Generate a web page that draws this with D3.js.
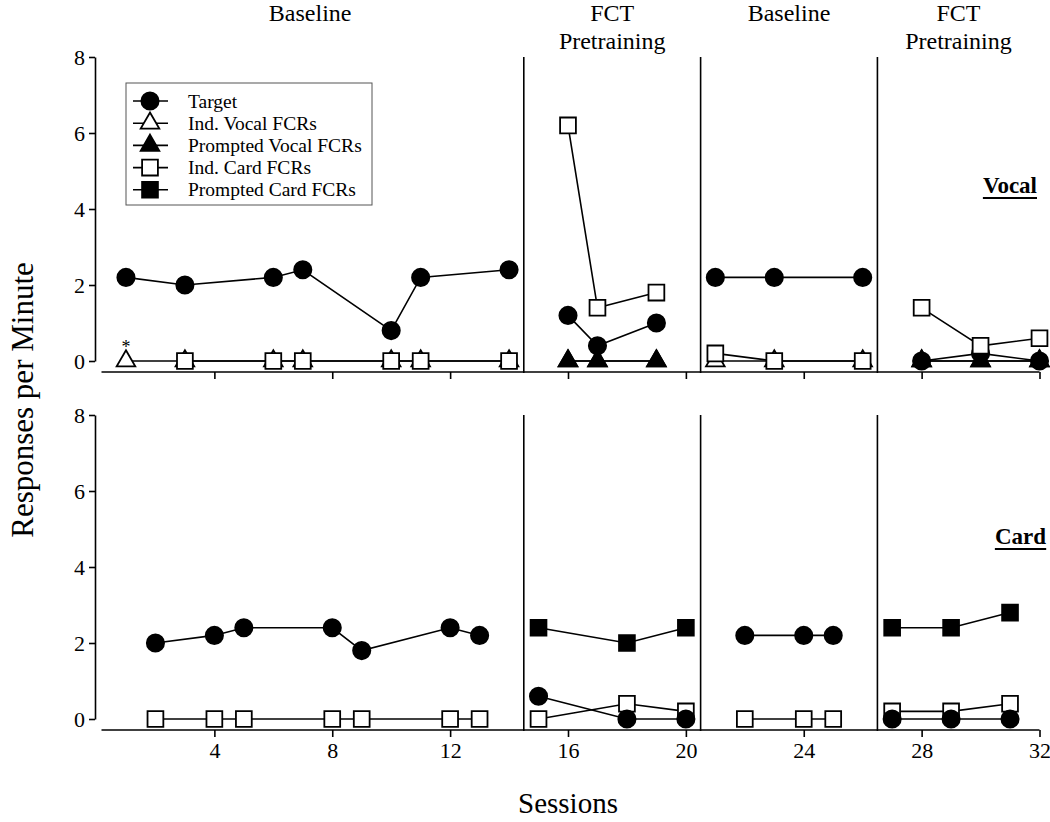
<!DOCTYPE html>
<html>
<head>
<meta charset="utf-8">
<script src="https://cdn.jsdelivr.net/npm/d3@7"></script>
<style>
body { margin: 0; background: #fff; }
svg { display: block; font-family: "Liberation Serif", "Times New Roman", serif; }
</style>
</head>
<body>
<svg width="1050" height="822"></svg>
<script>
/*------------------------
  ------ VARIABLES -------
  ------------------------*/

// input
var sessionTicks = [4, 8, 12, 16, 20, 24, 28, 32];
var rateTicks = [0, 2, 4, 6, 8];
var phaseBounds = [0, 14.5, 20.5, 26.5, 32];
var phaseNames = [["Baseline"], ["FCT", "Pretraining"], ["Baseline"], ["FCT", "Pretraining"]];
var legendNames = ["Target", "Ind. Vocal FCRs", "Prompted Vocal FCRs", "Ind. Card FCRs", "Prompted Card FCRs"];
var legendKeys = ["target", "indVocal", "promVocal", "indCard", "promCard"];

// vocal panel  [session, responses per minute]
var vocalTarget = [[1, 2.2], [3, 2.0], [6, 2.2], [7, 2.4], [10, 0.8], [11, 2.2], [14, 2.4],
                   [16, 1.2], [17, 0.4], [19, 1.0],
                   [21, 2.2], [23, 2.2], [26, 2.2],
                   [28, 0], [30, 0.2], [32, 0]];
var vocalIndVocal = [[1, 0], [3, 0], [6, 0], [7, 0], [10, 0], [11, 0], [14, 0],
                     [16, 0], [17, 0], [19, 0],
                     [21, 0], [23, 0], [26, 0],
                     [28, 0], [30, 0], [32, 0]];
var vocalPromVocal = [[16, 0], [17, 0], [19, 0],
                      [28, 0], [30, 0], [32, 0]];
var vocalIndCard = [[3, 0], [6, 0], [7, 0], [10, 0], [11, 0], [14, 0],
                    [16, 6.2], [17, 1.4], [19, 1.8],
                    [21, 0.2], [23, 0], [26, 0],
                    [28, 1.4], [30, 0.4], [32, 0.6]];

// card panel
var cardIndCard = [[2, 0], [4, 0], [5, 0], [8, 0], [9, 0], [12, 0], [13, 0],
                   [15, 0], [18, 0.4], [20, 0.2],
                   [22, 0], [24, 0], [25, 0],
                   [27, 0.2], [29, 0.2], [31, 0.4]];
var cardPromCard = [[15, 2.4], [18, 2.0], [20, 2.4],
                    [27, 2.4], [29, 2.4], [31, 2.8]];
var cardTarget = [[2, 2.0], [4, 2.2], [5, 2.4], [8, 2.4], [9, 1.8], [12, 2.4], [13, 2.2],
                  [15, 0.6], [18, 0], [20, 0],
                  [22, 2.2], [24, 2.2], [25, 2.2],
                  [27, 0], [29, 0], [31, 0]];

// display
var styles = {
    target:    {type: d3.symbolCircle,   size: 235, fill: "#000"},
    indVocal:  {type: d3.symbolTriangle, size: 150, fill: "#fff"},
    promVocal: {type: d3.symbolTriangle, size: 150, fill: "#000"},
    indCard:   {type: d3.symbolSquare,   size: 250, fill: "#fff"},
    promCard:  {type: d3.symbolSquare,   size: 250, fill: "#000"}
};

var panels = [
    {name: "Vocal", top: 57, bot: 361, axisY: 372, labels: false, nameY: 193, nameX: 1037,
     series: [["target", vocalTarget], ["indVocal", vocalIndVocal],
              ["promVocal", vocalPromVocal], ["indCard", vocalIndCard]]},
    {name: "Card", top: 415, bot: 719, axisY: 730, labels: true, nameY: 544, nameX: 1046,
     series: [["indCard", cardIndCard], ["promCard", cardPromCard], ["target", cardTarget]]}
];

var svg = d3.select("svg");
var x = d3.scaleLinear().domain([0, 32]).range([96.5, 1039.5]);

/*---------------------
  -- DISPLAY HELPERS --
  ---------------------*/

function phase_of(s) {
    // only the inner phase changes split a series
    return d3.bisect(phaseBounds.slice(1, 4), s);
}

function split_phases(data) {
    return d3.groups(data, function(d) { return phase_of(d[0]); })
        .map(function(g) { return g[1]; });
}

function symbol_path(key) {
    return d3.symbol().type(styles[key].type).size(styles[key].size)();
}

function style_axis(a) {
    a.selectAll("text").attr("font-size", 22).attr("font-family", "Liberation Serif").attr("fill", "#000");
    a.selectAll("line,path").attr("stroke", "#000").attr("stroke-width", 1.6);
}

/*---------------------
  --- DISPLAY PANEL ---
  ---------------------*/

function display_panel(p) {
    var y = d3.scaleLinear().domain([0, 8]).range([p.bot, p.top]);
    var g = svg.append("g");

    // y axis
    g.append("g")
        .attr("transform", "translate(95,0)")
        .call(d3.axisLeft(y).tickValues(rateTicks).tickSize(6).tickSizeOuter(0).tickPadding(4))
        .call(style_axis);

    // x axis
    var xa = d3.axisBottom(x).tickValues(sessionTicks).tickSize(7).tickSizeOuter(0).tickPadding(5);
    if (!p.labels) xa.tickFormat("");
    g.append("g")
        .attr("transform", "translate(0," + p.axisY + ")")
        .call(xa)
        .call(style_axis)
        .call(function(a) {
            a.select(".domain").attr("d", "M" + (x(0) + 5) + ",0H" + x(32));
        });

    // phase change lines
    g.selectAll(".phase")
        .data(phaseBounds.slice(1, 4))
        .enter()
        .append("line")
        .attr("x1", x).attr("x2", x)
        .attr("y1", p.top).attr("y2", p.axisY + 1)
        .attr("stroke", "#000")
        .attr("stroke-width", 1.6);

    // data paths and markers
    var line = d3.line()
        .x(function(d) { return x(d[0]); })
        .y(function(d) { return y(d[1]); });

    p.series.forEach(function(s) {
        var key = s[0];
        split_phases(s[1]).forEach(function(seg) {
            g.append("path")
                .attr("d", line(seg))
                .attr("fill", "none")
                .attr("stroke", "#000")
                .attr("stroke-width", 1.6);
        });
        g.selectAll(".pt-" + key)
            .data(s[1])
            .enter()
            .append("path")
            .attr("transform", function(d) { return "translate(" + x(d[0]) + "," + y(d[1]) + ")"; })
            .attr("d", symbol_path(key))
            .attr("fill", styles[key].fill)
            .attr("stroke", "#000")
            .attr("stroke-width", 1.8);
    });

    // panel name, bold underlined
    var t = g.append("text")
        .attr("x", p.nameX)
        .attr("y", p.nameY)
        .attr("text-anchor", "end")
        .attr("font-size", 23)
        .attr("font-weight", "bold")
        .text(p.name);
    var bb = t.node().getBBox();
    g.append("line")
        .attr("x1", bb.x).attr("x2", bb.x + bb.width)
        .attr("y1", p.nameY + 5).attr("y2", p.nameY + 5)
        .attr("stroke", "#000").attr("stroke-width", 2);

    return y;
}

function display_phase_names() {
    phaseNames.forEach(function(lines, i) {
        var cx = (x(phaseBounds[i]) + x(phaseBounds[i + 1])) / 2;
        lines.forEach(function(txt, j) {
            svg.append("text")
                .attr("x", cx)
                .attr("y", 21 + j * 28)
                .attr("text-anchor", "middle")
                .attr("font-size", 24)
                .text(txt);
        });
    });
}

function display_legend() {
    var lg = svg.append("g").attr("transform", "translate(126,83)");
    lg.append("rect")
        .attr("width", 246).attr("height", 122)
        .attr("fill", "#fff")
        .attr("stroke", "#555").attr("stroke-width", 1);
    legendKeys.forEach(function(key, i) {
        var ry = 18 + i * 22.2;
        lg.append("line")
            .attr("x1", 7).attr("x2", 42)
            .attr("y1", ry).attr("y2", ry)
            .attr("stroke", "#000").attr("stroke-width", 1.6);
        lg.append("path")
            .attr("transform", "translate(24," + ry + ")")
            .attr("d", symbol_path(key))
            .attr("fill", styles[key].fill)
            .attr("stroke", "#000").attr("stroke-width", 1.8);
        lg.append("text")
            .attr("x", 62).attr("y", ry + 6.5)
            .attr("font-size", 19.5)
            .text(legendNames[i]);
    });
}

/*------------------
  ------ RUN -------
  ------------------*/

var yTop = display_panel(panels[0]);
display_panel(panels[1]);
display_phase_names();
display_legend();

// asterisk over the first session
svg.append("text")
    .attr("x", x(1)).attr("y", yTop(0) - 8)
    .attr("text-anchor", "middle")
    .attr("font-size", 18)
    .text("*");

// axis titles
svg.append("text")
    .attr("transform", "translate(33,400) rotate(-90)")
    .attr("text-anchor", "middle")
    .attr("font-size", 31)
    .text("Responses per Minute");
svg.append("text")
    .attr("x", 568).attr("y", 813)
    .attr("text-anchor", "middle")
    .attr("font-size", 29)
    .text("Sessions");
</script>
</body>
</html>
